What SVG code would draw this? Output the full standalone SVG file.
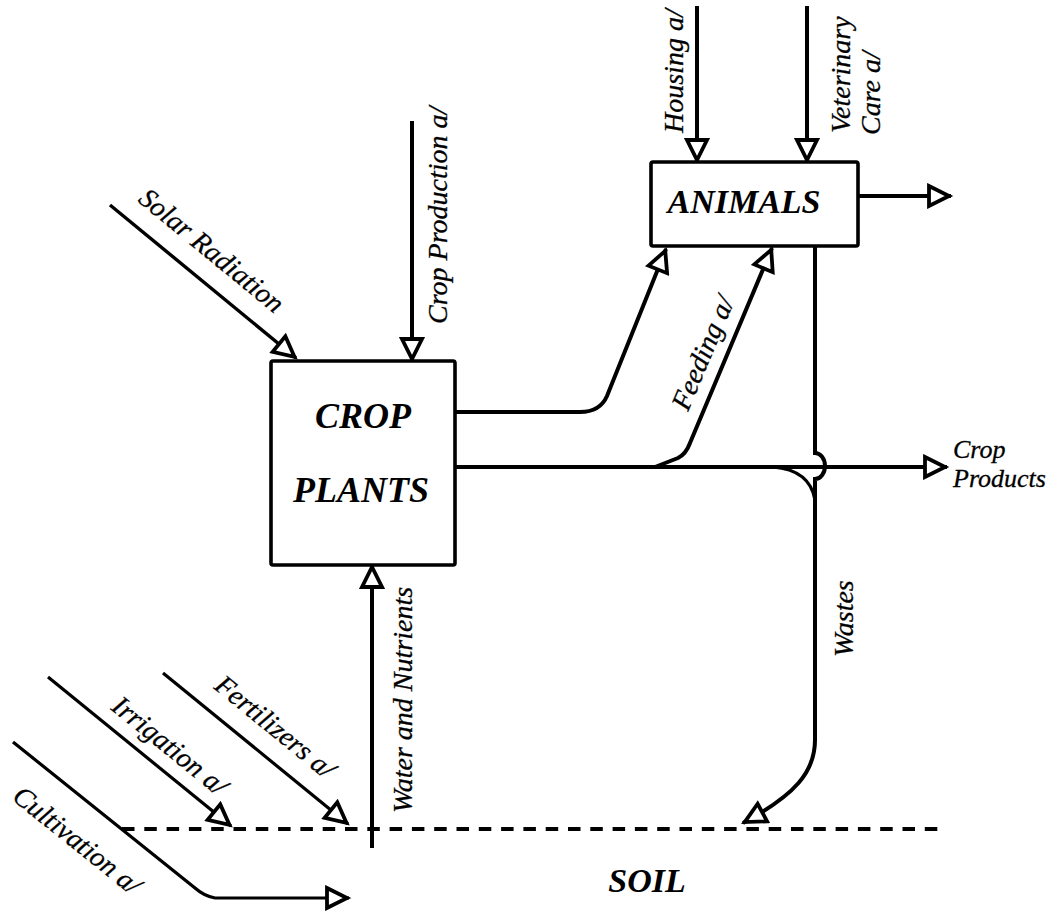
<svg xmlns="http://www.w3.org/2000/svg" width="1061" height="913" viewBox="0 0 1061 913">
<style>
.ln{fill:none;stroke:#000;stroke-width:4}
.thin{fill:none;stroke:#000;stroke-width:3.2}
.box{fill:#fff;stroke:#000;stroke-width:3.6}
.lbl{font-family:"Liberation Serif","Times New Roman",serif;font-style:italic;font-size:28px;fill:#000;stroke:#000;stroke-width:0.3}
.big{font-family:"Liberation Serif","Times New Roman",serif;font-style:italic;font-weight:bold;font-size:36px;fill:#000}
</style>
<defs>
<marker id="ah" viewBox="-3 -13 30 26" markerWidth="30" markerHeight="26" refX="22" refY="0" orient="auto" markerUnits="userSpaceOnUse">
<path d="M0,-10 L20,0 L0,10 Z" fill="#fff" stroke="#000" stroke-width="3.8"/>
</marker>
</defs>
<rect width="1061" height="913" fill="#fff"/>
<g id="connectors">
<line class="ln" x1="697" y1="6" x2="697" y2="162" marker-end="url(#ah)"/>
<line class="ln" x1="807" y1="6" x2="807" y2="162" marker-end="url(#ah)"/>
<line class="ln" x1="858" y1="196" x2="951" y2="196" marker-end="url(#ah)"/>
<line class="ln" x1="412" y1="121" x2="412" y2="361" marker-end="url(#ah)"/>
<line class="thin" x1="110" y1="205" x2="296" y2="358" marker-end="url(#ah)" style="stroke-width:3.4"/>
<path class="ln" d="M455,412 L580,412 Q600,412 607,396 L666,249" marker-end="url(#ah)"/>
<line class="ln" x1="455" y1="467" x2="947" y2="467" marker-end="url(#ah)"/>
<path class="ln" d="M655,467 L678,458 Q686,454 690,443 L772,248" marker-end="url(#ah)"/>
<path class="thin" d="M773,467 Q810,470 815,500"/>
<path class="ln" d="M815,246 L815,453 A10,13 0 0 1 815,479 L815,740 C815,772 795,795 743,823" marker-end="url(#ah)"/>
<line class="ln" x1="372" y1="848" x2="372" y2="565" marker-end="url(#ah)"/>
<line class="ln" x1="122" y1="829" x2="940" y2="829" stroke-dasharray="12.5 9.8"/>
<line class="thin" x1="48" y1="677" x2="231" y2="826" marker-end="url(#ah)"/>
<line class="thin" x1="163" y1="673" x2="348" y2="824" marker-end="url(#ah)"/>
<path class="thin" d="M13,742 L195,888 Q204,896 215,898 L349,898" marker-end="url(#ah)"/>
</g>
<g id="connector-labels">
<text class="lbl" transform="translate(683,133) rotate(-90)">Housing a/</text>
<text class="lbl" transform="translate(850,133) rotate(-90)">Veterinary</text>
<text class="lbl" transform="translate(880,135) rotate(-90)">Care a/</text>
<text class="lbl" transform="translate(447,324) rotate(-90)">Crop Production a/</text>
<text class="lbl" transform="translate(137,201) rotate(39.4)">Solar Radiation</text>
<text class="lbl" transform="translate(688,412) rotate(-67.2)">Feeding a/</text>
<text class="lbl" x="953" y="458" style="font-size:26px">Crop</text>
<text class="lbl" x="953" y="487" style="font-size:26px">Products</text>
<text class="lbl" transform="translate(853,657) rotate(-90)">Wastes</text>
<text class="lbl" transform="translate(412,813) rotate(-90)">Water and Nutrients</text>
<text class="lbl" transform="translate(110,709) rotate(39.1)">Irrigation a/</text>
<text class="lbl" transform="translate(213,688) rotate(39.2)">Fertilizers a/</text>
<text class="lbl" transform="translate(11,799) rotate(38.7)">Cultivation a/</text>
</g>
<g id="node-crop-plants">
<rect class="box" x="271" y="361" width="184" height="204" rx="2"/>
<text class="big" x="363" y="428" text-anchor="middle">CROP</text>
<text class="big" x="361" y="502" text-anchor="middle">PLANTS</text>
</g>
<g id="node-animals">
<rect class="box" x="651" y="162" width="207" height="84" rx="2"/>
<text class="big" x="744" y="213" text-anchor="middle" style="font-size:34px">ANIMALS</text>
</g>
<g id="node-soil">
<text class="big" x="647" y="892" text-anchor="middle" style="font-size:34px">SOIL</text>
</g>
</svg>
